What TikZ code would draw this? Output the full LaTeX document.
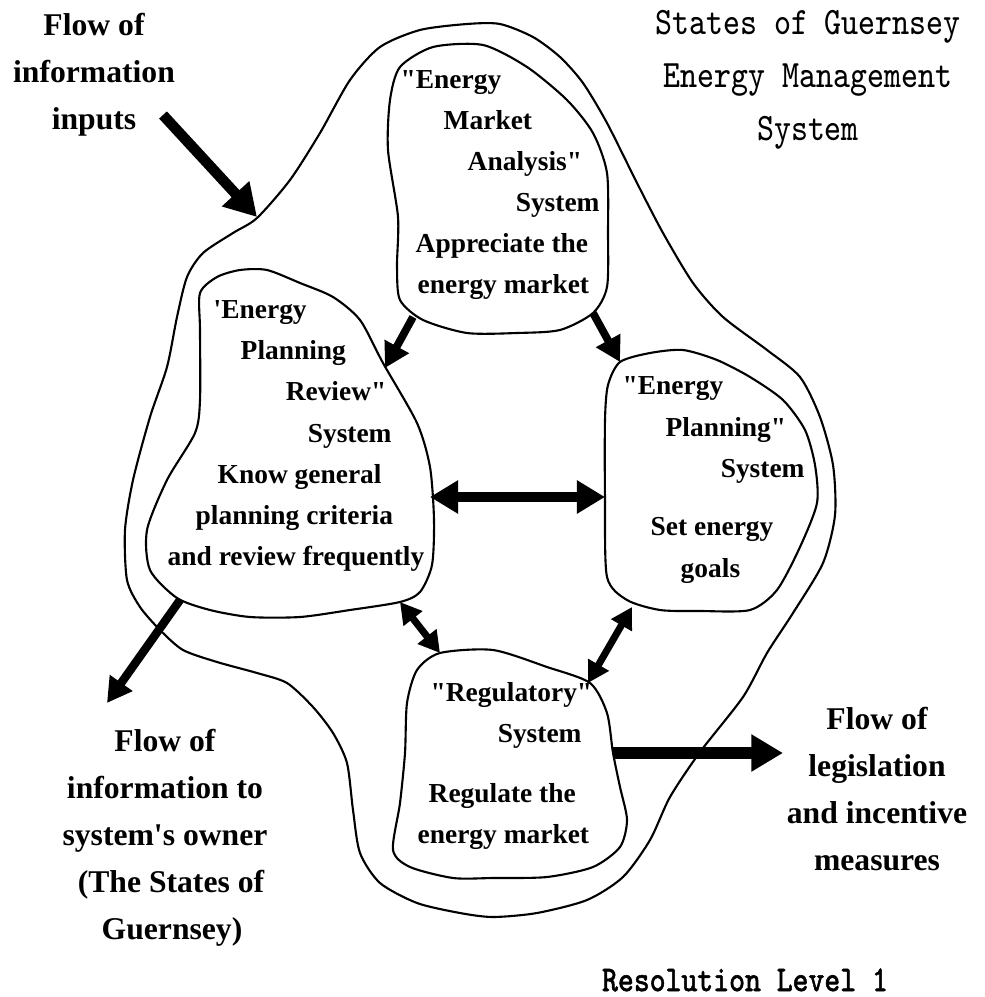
\documentclass[tikz,border=0pt]{standalone}
\usepackage{fontspec}
\setmainfont{Liberation Serif}
\setmonofont{Latin Modern Mono}[AutoFakeBold=1.6]
\usetikzlibrary{arrows.meta}

\newcommand{\tallline}[1]{\scalebox{1}[1.2]{#1}}

\begin{document}
\begin{tikzpicture}[x=0.01cm, y=-0.01cm,
        blob/.style={black, line width=0.6pt},
        boxtext/.style={font=\fontsize{7.8}{11.7}\selectfont\bfseries, align=left, inner sep=0pt, anchor=west},
        flowtext/.style={font=\fontsize{9}{13.4}\selectfont\bfseries, align=center, inner sep=0pt},
        headtext/.style={font=\fontsize{9.2}{15}\selectfont\ttfamily, align=center, inner sep=0pt},
        flowarrow/.style={line width=3pt, -{Triangle[length=9pt,width=10pt]}},
        linkarrow/.style={line width=2.2pt, -{Triangle[length=7pt,width=7.5pt]}},
        twoway/.style={line width=2.6pt, {Triangle[length=8pt,width=9pt]}-{Triangle[length=8pt,width=9pt]}},
        shortway/.style={line width=2pt, {Triangle[length=6pt,width=6.5pt]}-{Triangle[length=6pt,width=6.5pt]}}]
                \useasboundingbox (0,0) rectangle (985,997);
                % the whole management system
                \draw[blob] plot[smooth cycle, tension=0.45] coordinates {(257,218) (290,180) (320,133) (350,80) (380,47) (420,30) (467,24) (500,24) (533,37) (560,57) (583,83) (607,123) (637,183) (663,233) (693,283) (723,317) (767,350) (800,377) (820,417) (833,465) (835,515) (823,563) (793,613) (767,653) (743,697) (700,752) (670,797) (650,840) (623,877) (587,900) (537,913) (493,917) (460,913) (417,903) (380,883) (360,853) (353,810) (347,763) (333,733) (313,707) (287,683) (257,673) (217,662) (183,650) (160,630) (140,607) (127,580) (125,530) (133,480) (150,417) (167,367) (177,317) (187,277) (203,253) (233,233)};
                % sub-systems
                \draw[blob] plot[smooth cycle, tension=0.45] coordinates {(400,67) (433,47) (483,45) (527,67) (567,100) (593,133) (607,173) (608,233) (607,287) (593,313) (560,330) (517,333) (467,333) (423,320) (400,300) (397,267) (398,217) (388,150) (390,100)};
                \draw[blob] plot[smooth cycle, tension=0.45] coordinates {(200,293) (217,277) (240,270) (267,270) (300,283) (333,297) (360,320) (383,363) (417,423) (430,467) (434,520) (432,565) (420,592) (400,602) (350,610) (300,617) (250,617) (210,610) (177,598) (150,570) (147,530) (167,480) (195,433) (200,400) (200,330)};
                \draw[blob] plot[smooth cycle, tension=0.45] coordinates {(620,362) (650,353) (683,350) (717,360) (750,377) (783,400) (805,430) (815,465) (817,503) (800,547) (777,590) (750,610) (700,611) (660,610) (627,600) (607,577) (605,500) (605,420) (608,385)};
                \draw[blob] plot[smooth cycle, tension=0.45] coordinates {(417,670) (440,653) (493,650) (547,667) (590,683) (607,713) (613,753) (620,787) (627,820) (620,847) (593,867) (547,877) (493,878) (453,878) (410,867) (393,850) (400,803) (405,753) (407,703)};
                % arrow ends
                \coordinate (inTail) at (163,115);
                \coordinate (inTip) at (257,217);
                \coordinate (mktL) at (413,317);
                \coordinate (revTop) at (385,368);
                \coordinate (mktR) at (593,313);
                \coordinate (plnTop) at (620,362);
                \coordinate (revE) at (430,497);
                \coordinate (plnW) at (605,497);
                \coordinate (revS) at (400,602);
                \coordinate (regNW) at (440,653);
                \coordinate (plnSW) at (632,607);
                \coordinate (regNE) at (588,683);
                \coordinate (revSW) at (180,600);
                \coordinate (outTip) at (107,703);
                \coordinate (regE) at (613,753);
                \coordinate (legTip) at (783,753);
                \draw[flowarrow] (inTail) -- (inTip);
                \draw[linkarrow] (mktL) -- (revTop);
                \draw[linkarrow] (mktR) -- (plnTop);
                \draw[twoway] (revE) -- (plnW);
                \draw[shortway] (revS) -- (regNW);
                \draw[shortway] (plnSW) -- (regNE);
                \draw[linkarrow, line width=2.4pt] (revSW) -- (outTip);
                \draw[flowarrow, line width=3.6pt] (regE) -- (legTip);
                % texts
                \node[boxtext] (mkt) at (400,185) {\textquotedbl Energy\\\hspace*{0.43cm}Market\\\hspace*{0.67cm}Analysis\textquotedbl\\\hspace*{1.15cm}System\\\hspace*{0.15cm}Appreciate the\\\hspace*{0.17cm}energy market};
                \node[boxtext] (rev) at (167,436) {\hspace*{0.46cm}\textquotesingle Energy\\\hspace*{0.73cm}Planning\\\hspace*{1.18cm}Review\textquotedbl\\\hspace*{1.40cm}System\\\hspace*{0.50cm}Know general\\\hspace*{0.28cm}planning criteria\\and review frequently};
                \node[boxtext] (pln) at (622,480) {\textquotedbl Energy\\\hspace*{0.43cm}Planning\textquotedbl\\\hspace*{0.98cm}System\\[5pt]\hspace*{0.28cm}Set energy\\\hspace*{0.58cm}goals};
                \node[boxtext] (reg) at (417,766) {\hspace*{0.13cm}\textquotedbl Regulatory\textquotedbl\\\hspace*{0.80cm}System\\[5.5pt]\hspace*{0.11cm}Regulate the\\energy market};
                \node[flowtext] (inputs) at (94,75) {Flow of\\information\\inputs};
                \node[flowtext] (owner) at (165,838) {Flow of\\information to\\system\textquotesingle s owner\hspace*{0.26cm}\\\hspace*{0.12cm}(The States of\\\hspace*{0.14cm}Guernsey)};
                \node[flowtext] (legis) at (877,789) {Flow of\\legislation\\and incentive\\measures};
                \node[headtext] (title) at (808,80) {\tallline{States of Guernsey}\\\tallline{Energy Management}\\\tallline{System}};
                \node[headtext, font=\fontsize{8.6}{15}\selectfont\ttfamily\bfseries] (level) at (745,980) {\tallline{Resolution Level 1}};
            \end{tikzpicture}
\end{document}
